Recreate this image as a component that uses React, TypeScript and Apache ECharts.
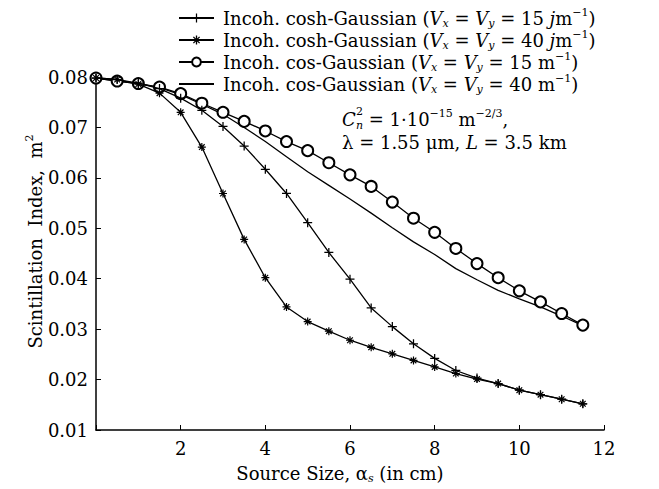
import React, { useEffect, useRef } from "react";
import * as echarts from "echarts";

const xValues = [0, 0.5, 1, 1.5, 2, 2.5, 3, 3.5, 4, 4.5, 5, 5.5, 6, 6.5, 7, 7.5, 8, 8.5, 9, 9.5, 10, 10.5, 11, 11.5];
const coshV15 = [0.0798, 0.0795, 0.0788, 0.0777, 0.0758, 0.0734, 0.0702, 0.0663, 0.0617, 0.0569, 0.0511, 0.0452, 0.0399, 0.0342, 0.0305, 0.0271, 0.0242, 0.0218, 0.0203, 0.0192, 0.0179, 0.017, 0.0161, 0.0152];
const coshV40 = [0.0798, 0.0795, 0.0786, 0.0768, 0.073, 0.0661, 0.0569, 0.0478, 0.0402, 0.0344, 0.0315, 0.0296, 0.0278, 0.0264, 0.0251, 0.0238, 0.0225, 0.0212, 0.0201, 0.0192, 0.0179, 0.017, 0.0161, 0.0152];
const cosV15 = [0.0798, 0.0792, 0.0787, 0.078, 0.0767, 0.0748, 0.073, 0.0712, 0.0693, 0.0672, 0.0654, 0.063, 0.0606, 0.0583, 0.0552, 0.052, 0.0492, 0.046, 0.043, 0.0402, 0.0376, 0.0354, 0.0331, 0.0308];
const cosV40 = [0.0798, 0.0792, 0.0787, 0.0779, 0.0765, 0.0746, 0.0726, 0.07, 0.0672, 0.0642, 0.0612, 0.0585, 0.0558, 0.053, 0.0501, 0.0473, 0.0448, 0.042, 0.0398, 0.0377, 0.036, 0.0344, 0.0326, 0.0307];

const seriesNames = ["coshV15", "coshV40", "cosV15", "cosV40"];
const legendLabels: Record<string, string> = {
  coshV15: "Incoh. cosh-Gaussian ({i|V}{sub|x} = {i|V}{sub|y} = 15 {i|j}m{sup|−1})",
  coshV40: "Incoh. cosh-Gaussian ({i|V}{sub|x} = {i|V}{sub|y} = 40 {i|j}m{sup|−1})",
  cosV15: "Incoh. cos-Gaussian ({i|V}{sub|x} = {i|V}{sub|y} = 15 m{sup|−1})",
  cosV40: "Incoh. cos-Gaussian ({i|V}{sub|x} = {i|V}{sub|y} = 40 m{sup|−1})",
};

const FONT = "DejaVu Serif, Liberation Serif, serif";
const FS = 18;

function barsPath(angles: number[], len: number, w: number): string {
  let d = "";
  for (const a of angles) {
    const r = (a * Math.PI) / 180;
    const c = Math.cos(r);
    const s = Math.sin(r);
    const pts = [
      [-len / 2, -w / 2],
      [len / 2, -w / 2],
      [len / 2, w / 2],
      [-len / 2, w / 2],
    ].map(([px, py]) => [px * c - py * s, px * s + py * c]);
    d += "M" + pts.map((p) => p[0].toFixed(3) + "," + p[1].toFixed(3)).join("L") + "Z";
  }
  return "path://" + d;
}

const plusSymbol = barsPath([0, 90], 10, 1.4);
const starSymbol = barsPath([0, 45, 90, 135], 10, 1.5);

const richBase = {
  i: { fontStyle: "italic", fontSize: FS, fontFamily: FONT, color: "#000", lineHeight: 22 },
  sub: { fontStyle: "italic", fontSize: 11, fontFamily: FONT, color: "#000", verticalAlign: "bottom", lineHeight: 12 },
  sup: { fontSize: 11, fontFamily: FONT, color: "#000", verticalAlign: "top", lineHeight: 12 },
  g: { fontSize: FS, fontFamily: FONT, color: "#000", lineHeight: 22 },
};

export default function App() {
  const ref = useRef<HTMLDivElement>(null);
  useEffect(() => {
    if (!ref.current) return;
    const chart = echarts.init(ref.current, null, { renderer: "svg" });
    const toPairs = (ys: number[]) => xValues.map((x, i) => [x, ys[i]]);
    const lineStyle = { color: "#000", width: 1.3 };
    const textBase = { fontFamily: FONT, fontSize: FS, color: "#000" };
    chart.setOption({
      animation: false,
      backgroundColor: "#fff",
      grid: { left: 96, right: 55, top: 77, bottom: 53, containLabel: false },
      legend: {
        orient: "vertical",
        left: 178,
        top: 7,
        padding: 0,
        itemGap: 0,
        itemWidth: 35,
        itemHeight: 11,
        data: seriesNames,
        formatter: (name: string) => legendLabels[name],
        textStyle: { ...textBase, lineHeight: 22, padding: [0, 0, 0, 4], rich: richBase },
      },
      xAxis: {
        type: "value",
        min: 0,
        max: 12,
        interval: 2,
        name: "Source Size, {g|α}{sub|s} (in cm)",
        nameLocation: "middle",
        nameGap: 32,
        nameMoveOverlap: false,
        nameTextStyle: { ...textBase, lineHeight: 22, padding: [0, 20, 0, 0], rich: richBase },
        axisLine: { lineStyle: { color: "#000", width: 1.5 } },
        axisTick: { inside: true, length: 5, lineStyle: { color: "#000", width: 1 } },
        axisLabel: { ...textBase, margin: 9, formatter: (v: number) => (v === 0 ? "" : String(v)) },
        splitLine: { show: false },
      },
      yAxis: {
        type: "value",
        min: 0.01,
        max: 0.08,
        interval: 0.01,
        name: "Scintillation  Index,  m{sup|2}",
        nameLocation: "middle",
        nameGap: 50,
        nameMoveOverlap: false,
        nameTextStyle: { ...textBase, lineHeight: 22, padding: [0, 0, 0, 24], rich: richBase },
        axisLine: { show: true, lineStyle: { color: "#000", width: 1.5 } },
        axisTick: { show: true, inside: true, length: 5, lineStyle: { color: "#000", width: 1 } },
        axisLabel: { ...textBase, margin: 8, formatter: (v: number) => v.toFixed(2) },
        splitLine: { show: false },
      },
      graphic: [
        { type: "text", x: 342, y: 119, style: { text: "C", fontFamily: FONT, fontSize: FS, fontStyle: "italic", fill: "#000", verticalAlign: "middle" } },
        { type: "text", x: 356, y: 111, style: { text: "2", fontFamily: FONT, fontSize: 11, fill: "#000", verticalAlign: "middle" } },
        { type: "text", x: 356, y: 125, style: { text: "n", fontFamily: FONT, fontSize: 11, fontStyle: "italic", fill: "#000", verticalAlign: "middle" } },
        {
          type: "text",
          x: 363,
          y: 119,
          style: {
            text: " = 1·10{sup|−15} m{sup|−2/3},",
            fontFamily: FONT,
            fontSize: FS,
            fill: "#000",
            verticalAlign: "middle",
            lineHeight: 22,
            rich: richBase,
          },
        },
        {
          type: "text",
          x: 342,
          y: 142,
          style: {
            text: "λ = 1.55 μm, {i|L} = 3.5 km",
            fontFamily: FONT,
            fontSize: FS,
            fill: "#000",
            verticalAlign: "middle",
            lineHeight: 22,
            rich: richBase,
          },
        },
      ],
      series: [
        {
          name: "coshV15",
          type: "line",
          data: toPairs(coshV15),
          symbol: plusSymbol,
          symbolSize: 9,
          itemStyle: { color: "#000" },
          lineStyle,
          z: 3,
        },
        {
          name: "coshV40",
          type: "line",
          data: toPairs(coshV40),
          symbol: starSymbol,
          symbolSize: 8,
          itemStyle: { color: "#000" },
          lineStyle,
          z: 3,
        },
        {
          name: "cosV15",
          type: "line",
          data: toPairs(cosV15),
          symbol: "emptyCircle",
          symbolSize: 11,
          itemStyle: { color: "#000", borderWidth: 1 },
          lineStyle,
          z: 2,
        },
        {
          name: "cosV40",
          type: "line",
          data: toPairs(cosV40),
          symbol: "circle",
          showSymbol: false,
          itemStyle: { color: "rgba(0,0,0,0)" },
          lineStyle,
          z: 1,
        },
      ],
    });
    return () => chart.dispose();
  }, []);
  return <div ref={ref} style={{ width: 659, height: 489, position: "fixed", left: 0, top: 0, background: "#fff" }} />;
}
